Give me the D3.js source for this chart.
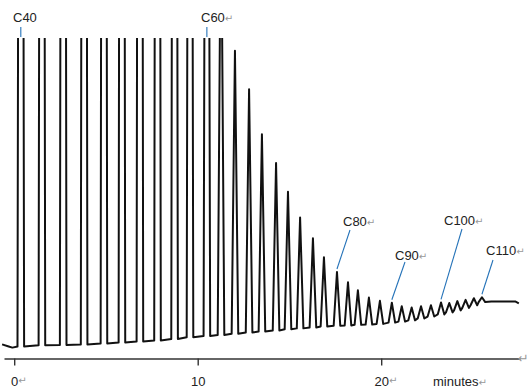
<!DOCTYPE html>
<html>
<head>
<meta charset="utf-8">
<script src="https://cdn.jsdelivr.net/npm/d3@7"></script>
<style>
  body { margin: 0; background: #fff; }
  svg { display: block; }
  text { font-family: "Liberation Sans", Arial, "DejaVu Sans", sans-serif; }
</style>
</head>
<body>
<svg id="chart" width="529" height="392"></svg>
<script>
// even-numbered alkanes, one peak each
const carbonNumbers = [40, 42, 44, 46, 48, 50, 52, 54, 56, 58,
  60, 62, 64, 66, 68, 70, 72, 74, 76, 78,
  80, 82, 84, 86, 88, 90, 92, 94, 96, 98,
  100, 102, 104, 106, 108, 110];
// retention time, minutes
const retentionTimes = [0.36, 1.51, 2.67, 3.81, 4.89, 5.87, 6.85, 7.81, 8.74, 9.58,
  10.5, 11.27, 12.03, 12.8, 13.5, 14.27, 14.92, 15.58, 16.28, 16.88,
  17.59, 18.19, 18.73, 19.33, 19.93, 20.58, 21.12, 21.66, 22.17, 22.71,
  23.26, 23.71, 24.15, 24.6, 25.05, 25.49];
// detector signal at peak top (the tall ones run far off scale)
const peakApex = [600, 650, 700, 720, 740, 740, 720, 680, 620, 520,
  400, 150, 96, 84, 70, 61, 52, 44, 37.5, 31.6,
  27, 23.8, 21.3, 19, 18, 17.4, 16.3, 15.9, 16.3, 16.6,
  17.5, 17.3, 17.9, 18.3, 18.8, 19.1];
// baseline signal under each peak
const peakBase = [3.75, 4.1, 4.2, 4.4, 4.7, 5, 5.3, 5.6, 6.1, 6.6,
  7, 7.3, 7.7, 8.1, 8.4, 8.75, 9.1, 9.4, 9.7, 10,
  10.2, 10.3, 10.5, 10.6, 10.8, 11.2, 11.5, 11.9, 12.5, 13.1,
  13.75, 14.4, 15, 15.8, 16.6, 17.6];
const leadTimes = [-0.66, -0.3, -0.1];
const leadValues = [4.4, 3.75, 3.4];
const tailTimes = [26.0, 27.3, 27.5];
const tailValues = [17.8, 17.8, 17.2];
const tickValues = [0, 10, 20];
const tickMarks = ["↵", "", "↵"];

const labelCarbons = [40, 60, 80, 90, 100, 110];

// label layout: text anchor + leader start
const labelLayout = {
  40: { tx: 13, ty: 22, lx: null, ly: 27, mark: false },
  60: { tx: 201, ty: 22, lx: null, ly: 27, mark: true },
  80: { tx: 343, ty: 226, lx: 350, ly: 230, mark: true },
  90: { tx: 395, ty: 260, lx: 405, ly: 262, mark: true },
  100: { tx: 444, ty: 225, lx: 462, ly: 229, mark: true },
  110: { tx: 486, ty: 255, lx: 493, ly: 260, mark: true },
};

const plotTop = 38;
const axisY = 358.5;
const halfWidth = 0.18;

const svg = d3.select("#chart");

const x = d3.scaleLinear().domain([0, 20]).range([14.2, 381.2]);
const y = d3.scaleLinear().domain([0, 100]).range([axisY, plotTop]);

// build trace points
let trace = [];
leadTimes.forEach((t, i) => trace.push([t, leadValues[i]]));
retentionTimes.forEach((t, i) => {
  trace.push([t - halfWidth, peakBase[i]]);
  trace.push([t, peakApex[i]]);
  trace.push([t + halfWidth, peakBase[i]]);
});
tailTimes.forEach((t, i) => trace.push([t, tailValues[i]]));

svg.append("defs").append("clipPath")
  .attr("id", "plotClip")
  .append("rect")
  .attr("x", 0)
  .attr("y", plotTop)
  .attr("width", 529)
  .attr("height", axisY - plotTop);

const line = d3.line()
  .x(d => x(d[0]))
  .y(d => y(d[1]));

svg.append("path")
  .datum(trace)
  .attr("clip-path", "url(#plotClip)")
  .attr("fill", "none")
  .attr("stroke", "#111")
  .attr("stroke-width", 2)
  .attr("stroke-linejoin", "round")
  .attr("d", line);

// axis
const xAxisScale = x.copy().domain([x.invert(4), x.invert(520)]).range([4, 520]);
const axisG = svg.append("g")
  .attr("transform", "translate(0," + axisY + ")")
  .call(d3.axisBottom(xAxisScale).tickValues(tickValues).tickSize(7).tickSizeOuter(0).tickFormat(d3.format("d")));

axisG.select(".domain").attr("stroke", "#333").attr("stroke-width", 1.4);
axisG.selectAll(".tick line").attr("stroke", "#333").attr("stroke-width", 1.4);
axisG.selectAll(".tick text")
  .attr("y", 18)
  .attr("fill", "#222")
  .style("font-size", "13px")
  .style("font-family", "'Liberation Sans', Arial, sans-serif");

axisG.selectAll(".tick").each(function (d, i) {
  const t = d3.select(this).select("text");
  const w = t.node().getComputedTextLength();
  if (tickMarks[i]) {
    d3.select(this).append("text")
      .attr("x", w / 2)
      .attr("y", 18)
      .attr("dy", "0.71em")
      .attr("fill", "#999")
      .attr("text-anchor", "start")
      .style("font-size", "10px")
      .text(tickMarks[i]);
  }
});

svg.append("text")
  .attr("x", 433)
  .attr("y", 386)
  .attr("fill", "#222")
  .style("font-size", "13px")
  .text("minutes")
  .append("tspan")
  .attr("fill", "#999")
  .style("font-size", "10px")
  .text("↵");

svg.append("text")
  .attr("x", 518)
  .attr("y", 363)
  .attr("fill", "#999")
  .style("font-size", "13px")
  .text("↵");

// peak labels
labelCarbons.forEach(c => {
  const i = carbonNumbers.indexOf(c);
  const lay = labelLayout[c];
  const px = x(retentionTimes[i]);
  const py = Math.max(y(peakApex[i]), plotTop) - (y(peakApex[i]) < plotTop ? 1 : 3);
  svg.append("line")
    .attr("x1", lay.lx == null ? px : lay.lx)
    .attr("y1", lay.ly)
    .attr("x2", px)
    .attr("y2", py)
    .attr("stroke", "#2472b8")
    .attr("stroke-width", 1.1);
  const txt = svg.append("text")
    .attr("x", lay.tx)
    .attr("y", lay.ty)
    .attr("fill", "#222")
    .style("font-size", "13px")
    .text("C" + c);
  if (lay.mark) {
    txt.append("tspan")
      .attr("fill", "#999")
      .style("font-size", "10px")
      .text("↵");
  }
});
</script>
</body>
</html>
